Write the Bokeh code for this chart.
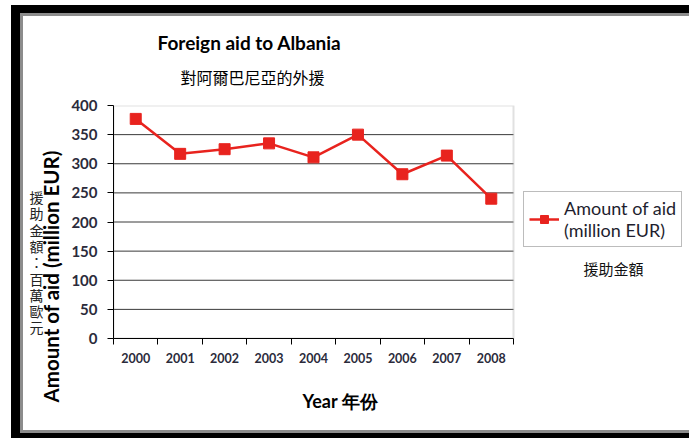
from bokeh.plotting import figure
from bokeh.models import FixedTicker, Legend, LegendItem, Range1d, Title, LinearAxis, Label, BoxAnnotation
from bokeh.embed import file_html
from bokeh.resources import INLINE

# ---- data ----
years = ["2000", "2001", "2002", "2003", "2004", "2005", "2006", "2007", "2008"]
aid = [377, 317, 325, 335, 311, 350, 282, 314, 240]
y_ticks = [0, 50, 100, 150, 200, 250, 300, 350, 400]

title_en = "Foreign aid to Albania"
title_zh = "對阿爾巴尼亞的外援"
ylabel_en = "Amount of aid (million EUR)"
ylabel_zh = "援助金額：百萬歐元"
xlabel = "Year 年份"
legend_en = "Amount of aid\n(million EUR)"
legend_zh = "援助金額"

# label anchors (in y-axis units) for the stacked Chinese y label characters
zh_char_pos = [243, 215, 187, 159, 131, 103, 75, 47, 19]

# ---- layout (pixels) ----
W, H = 678, 433            # canvas inside the picture frame
PLOT_W = 400               # width of the chart area
FRAME_W = 576              # drawing frame, extended to the right to hold the legend

x = list(range(len(years)))
x0, x1 = -0.5, len(years) - 0.5
RED = "#e8231e"
FONT = "Lato"
CJK = "Noto Sans CJK TC"
TXT = "#2b2b3b"

p = figure(width=W, height=H, output_backend="svg", toolbar_location=None, title=None,
           x_range=Range1d(x0, x0 + len(years) * FRAME_W / PLOT_W),
           y_range=Range1d(y_ticks[0], y_ticks[-1]),
           min_border_left=102, min_border_right=0, min_border_top=100, min_border_bottom=100)
p.styles = {"margin-left": "11px", "margin-top": "5px", "background-color": "white",
            "box-shadow": ("inset 9px 0 0 0 black, inset 0 8px 0 0 black, inset 0 -5px 0 0 black, "
                           "inset 12px 0 0 0 #8c8c8c, inset 0 11px 0 0 #8c8c8c, inset 0 -8px 0 0 #8c8c8c")}
p.background_fill_color = "white"
p.border_fill_alpha = 0
p.outline_line_color = None

# grid lines and chart-area border
p.xgrid.grid_line_color = None
p.ygrid.grid_line_color = None
p.segment(x0=[x0] * (len(y_ticks) - 2), x1=[x1] * (len(y_ticks) - 2),
          y0=y_ticks[1:-1], y1=y_ticks[1:-1], line_color="#3a3a3a", line_width=1, level="underlay")
p.add_layout(BoxAnnotation(left=x0, right=x1, bottom=y_ticks[0], top=y_ticks[-1],
                           fill_alpha=0, line_color="#9a9a9a", line_width=2, level="underlay"))

ln = p.line(x, aid, line_color=RED, line_width=2.5)
sc = p.scatter(x, aid, marker="square", size=11, fill_color=RED, line_color=RED)

# x axis
p.xaxis.bounds = (x0, x1)
p.xaxis.ticker = FixedTicker(ticks=x, minor_ticks=[i - 0.5 for i in range(len(years) + 1)])
p.xaxis.major_label_overrides = {i: yr for i, yr in zip(x, years)}
p.xaxis.major_tick_line_color = None
p.xaxis.minor_tick_line_color = "black"
p.xaxis.minor_tick_out = 6
p.xaxis.minor_tick_in = 0
p.xaxis.axis_line_color = "black"
p.xaxis.major_label_text_font = FONT
p.xaxis.major_label_text_font_style = "bold"
p.xaxis.major_label_text_font_size = "12.5px"
p.xaxis.major_label_text_color = TXT
p.xaxis.major_label_standoff = 8

# y axis
p.yaxis.ticker = FixedTicker(ticks=y_ticks)
p.yaxis.major_tick_out = 6
p.yaxis.major_tick_in = 0
p.yaxis.minor_tick_line_color = None
p.yaxis.axis_line_color = "black"
p.yaxis.major_label_text_font = FONT
p.yaxis.major_label_text_font_style = "bold"
p.yaxis.major_label_text_font_size = "15px"
p.yaxis.major_label_text_color = TXT
p.yaxis.major_label_standoff = 10

# x axis title
p.add_layout(Title(text=xlabel, align="left", offset=189, standoff=45,
                   text_font=FONT, text_font_size="18px", text_font_style="bold",
                   text_color="black"), "below")

# rotated English y label (left panel, outside tick labels)
p.add_layout(Title(text=ylabel_en, align="left", offset=-64, standoff=11,
                   text_font=FONT, text_font_size="20.5px", text_font_style="bold",
                   text_color="black"), "left")

# stacked Chinese y label as labels of a bare axis
zh_axis = LinearAxis(ticker=FixedTicker(ticks=zh_char_pos),
                     major_label_overrides={v: ch for v, ch in zip(zh_char_pos, ylabel_zh)},
                     axis_line_color=None, major_tick_line_color=None, minor_tick_line_color=None,
                     major_tick_out=0, major_tick_in=0, major_label_standoff=-12,
                     major_label_text_font=CJK, major_label_text_font_size="14px",
                     major_label_text_color="#222222")
p.add_layout(zh_axis, "left")

# titles
p.add_layout(Title(text=title_zh, align="left", offset=67, standoff=34,
                   text_font=CJK, text_font_size="16px", text_font_style="normal",
                   text_color="black"), "above")
p.add_layout(Title(text=title_en, align="left", offset=44, standoff=-16,
                   text_font=FONT, text_font_size="19px", text_font_style="bold",
                   text_color="black"), "above")

# legend (to the right of the chart area)
legend = Legend(items=[LegendItem(label=legend_en, renderers=[ln, sc])],
                location=(410, 91), border_line_color="#7a7a7a", border_line_width=1,
                label_text_font=FONT, label_text_font_size="18px", label_text_color="#1e1e2e",
                glyph_width=30, padding=5, margin=0, background_fill_alpha=1)
p.add_layout(legend, "center")

p.add_layout(Label(text=legend_zh, x=470, y=70, x_units="screen", y_units="screen",
                   text_align="left", text_baseline="middle",
                   text_font=CJK, text_font_size="15px", text_color="#111111"))

open("out.html", "w").write(file_html(p, INLINE))
